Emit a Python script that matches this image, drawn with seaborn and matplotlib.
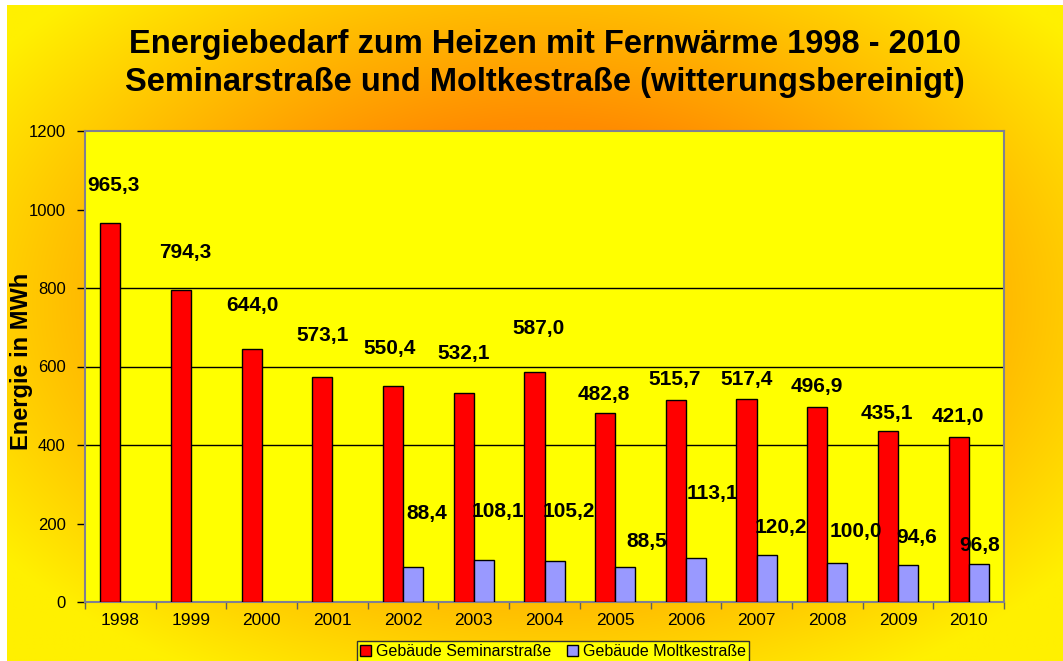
import numpy as np
import pandas as pd
import matplotlib
matplotlib.use("Agg")
import matplotlib.pyplot as plt
import seaborn as sns
from matplotlib.colors import to_rgb

years = ["1998", "1999", "2000", "2001", "2002", "2003", "2004",
         "2005", "2006", "2007", "2008", "2009", "2010"]
seminar = [965.3, 794.3, 644.0, 573.1, 550.4, 532.1, 587.0,
           482.8, 515.7, 517.4, 496.9, 435.1, 421.0]
moltke = [np.nan, np.nan, np.nan, np.nan, 88.4, 108.1, 105.2,
          88.5, 113.1, 120.2, 100.0, 94.6, 96.8]
series_names = ["Gebäude Seminarstraße", "Gebäude Moltkestraße"]
grid_levels = [400, 600, 800]

# label placement (pixels: dx right, dy above bar top to label centre)
seminar_lbl_dx = [3, 4, 1, 0, -3, 0, 4, -1, -1, 0, 0, -1, -1]
seminar_lbl_dy = [38, 38, 44, 42, 37, 40, 43, 18, 20, 19, 20, 18, 20]
moltke_lbl_dx = [0, 0, 0, 0, 14, 14, 14, 21, 16, 14, 19, 9, 1]
moltke_lbl_dy = [0, 0, 0, 0, 54, 48, 49, 26, 64, 27, 31, 27, 19]

df = pd.DataFrame({
    "Jahr": years * 2,
    "Energie": seminar + moltke,
    "Gebäude": [series_names[0]] * len(years) + [series_names[1]] * len(years),
})

sns.set_style("white")
plt.rcParams["font.family"] = ["Liberation Sans", "DejaVu Sans"]
plt.rcParams.update({"text.color": "black", "axes.labelcolor": "black",
                     "xtick.color": "black", "ytick.color": "black"})

W, H = 1063, 661
fig = plt.figure(figsize=(W / 100, H / 100), dpi=100)
fig.patch.set_facecolor("white")

# orange/yellow background gradient
bg = fig.add_axes([7 / W, 0, 1 - 7 / W, 1 - 5 / H], zorder=0)
yy, xx = np.mgrid[0:H, 0:W].astype(float)
d = np.sqrt(((xx - 540) / 560) ** 2 + ((yy - 300) / 360) ** 2)
t = np.clip((d - 0.5) / 0.7, 0, 1)[..., None]
c0 = np.array(to_rgb("#ff8c00"))
c1 = np.array(to_rgb("#fff000"))
bg.imshow(c0 * (1 - t) + c1 * t, aspect="auto", interpolation="bilinear")
bg.axis("off")

ax = fig.add_axes([85 / W, 1 - 602 / H, (1004 - 85) / W, (602 - 131) / H], zorder=1)
ax.set_facecolor("#ffff00")

sns.barplot(data=df, x="Jahr", y="Energie", hue="Gebäude", hue_order=series_names,
            palette={series_names[0]: "#ff0000", series_names[1]: "#9999ff"},
            width=0.57, edgecolor="black", linewidth=1, saturation=1,
            errorbar=None, ax=ax, zorder=3)

for lvl in grid_levels:
    ax.axhline(lvl, color="black", linewidth=1, zorder=2)

ax.set_ylim(0, 1200)
ax.set_xlim(-0.5, len(years) - 0.5)
ax.set_yticks(range(0, 1201, 200))
ax.tick_params(axis="y", left=True, length=6, width=1, direction="out",
               labelsize=12, pad=8)
ax.tick_params(axis="x", which="major", bottom=False, length=0, labelsize=12.5, pad=8)
ax.set_xticks(np.arange(-0.5, len(years), 1), minor=True)
ax.tick_params(axis="x", which="minor", bottom=True, length=5, width=1,
               color="#606060", direction="out")
ax.set_xlabel("")
ax.set_ylabel("Energie in MWh", fontsize=17, fontweight="bold")
ax.yaxis.set_label_coords(-52 / 919, 0.51)
for sp in ax.spines.values():
    sp.set_visible(True)
    sp.set_color("#808090")
    sp.set_linewidth(1.5)

pt = 72 / 100
for cont, dxs, dys in zip(ax.containers, [seminar_lbl_dx, moltke_lbl_dx],
                          [seminar_lbl_dy, moltke_lbl_dy]):
    for bar in cont:
        h = bar.get_height()
        if not np.isfinite(h) or h <= 0:
            continue
        xc = bar.get_x() + bar.get_width() / 2
        i = int(round(xc))
        ax.annotate(f"{h:.1f}".replace(".", ","), xy=(xc, h),
                    xytext=(dxs[i] * pt, dys[i] * pt), textcoords="offset points",
                    ha="center", va="center", fontsize=15, fontweight="bold",
                    zorder=5)

handles, labels = ax.get_legend_handles_labels()
ax.legend(handles, labels, loc="upper center", ncol=2,
          bbox_to_anchor=(553 / W, 1 - 633 / H), bbox_transform=fig.transFigure,
          fontsize=11.5, frameon=True, facecolor="#ffff00", edgecolor="#333333",
          framealpha=1, fancybox=False, handlelength=0.7, handleheight=0.7,
          handletextpad=0.3, columnspacing=1.0, borderpad=0.2)

fig.text(545 / W, 1 - 44 / H, "Energiebedarf zum Heizen mit Fernwärme 1998 - 2010",
         ha="center", va="center", fontsize=23.5, fontweight="bold")
fig.text(545 / W, 1 - 82 / H, "Seminarstraße und Moltkestraße (witterungsbereinigt)",
         ha="center", va="center", fontsize=23.5, fontweight="bold")

fig.savefig("out.png", dpi=100)
